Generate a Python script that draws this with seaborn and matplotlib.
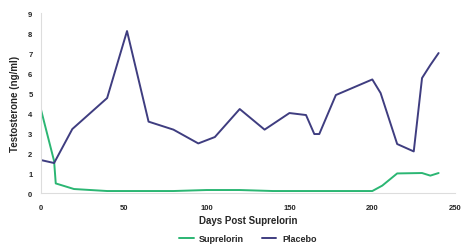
import pandas as pd
import seaborn as sns
import matplotlib.pyplot as plt

placebo_days = [0, 8, 19, 40, 52, 65, 80, 95, 105, 120, 135, 150, 160, 165, 168, 178, 200, 205, 215, 225, 230, 235, 240]
placebo_vals = [1.65, 1.5, 3.2, 4.75, 8.1, 3.57, 3.17, 2.48, 2.8, 4.2, 3.17, 4.0, 3.9, 2.95, 2.95, 4.9, 5.68, 5.0, 2.45, 2.08, 5.75, 6.4, 7.0]

sup_days = [0, 8, 9, 20, 40, 80, 100, 120, 140, 200, 206, 215, 230, 235, 240]
sup_vals = [4.2, 1.6, 0.48, 0.2, 0.1, 0.1, 0.15, 0.15, 0.1, 0.1, 0.37, 0.98, 1.0, 0.87, 1.0]

df = pd.concat([
    pd.DataFrame({"day": sup_days, "val": sup_vals, "group": "Suprelorin"}),
    pd.DataFrame({"day": placebo_days, "val": placebo_vals, "group": "Placebo"}),
])

sns.set_style("white")
plt.rcParams['font.family'] = ['Liberation Sans', 'DejaVu Sans']

fig = plt.figure(figsize=(4.64, 2.51), dpi=100)
ax = fig.add_axes([0.088, 0.227, 0.893, 0.717])
sns.lineplot(data=df, x="day", y="val", hue="group", sort=False, estimator=None,
             palette={"Suprelorin": "#2bb673", "Placebo": "#3f3d80"}, linewidth=1.4, ax=ax)

ax.set_xlim(0, 250)
ax.set_ylim(0, 9)
ax.set_xticks([0, 50, 100, 150, 200, 250])
ax.set_yticks(range(10))
ax.tick_params(axis="x", labelsize=5.5, length=0, pad=8)
ax.tick_params(axis="y", labelsize=5.5, length=0, pad=6)
for t in ax.get_xticklabels() + ax.get_yticklabels():
    t.set_fontweight("bold")
ax.set_xlabel("Days Post Suprelorin", fontsize=7, fontweight="bold", labelpad=3)
ax.set_ylabel("Testosterone (ng/ml)", fontsize=7, fontweight="bold", labelpad=6)
for s in ["top", "right"]:
    ax.spines[s].set_visible(False)
for s in ["left", "bottom"]:
    ax.spines[s].set_color("#dddddd")
    ax.spines[s].set_linewidth(0.8)

handles, labels = ax.get_legend_handles_labels()
ax.get_legend().remove()
leg = fig.legend(handles, labels, loc="center", bbox_to_anchor=(0.534, 0.044), ncol=2, frameon=False,
                 fontsize=6.5, handlelength=1.6, handletextpad=0.6, columnspacing=2.0)
for t in leg.get_texts():
    t.set_fontweight("bold")

fig.savefig("out.png", dpi=100)
